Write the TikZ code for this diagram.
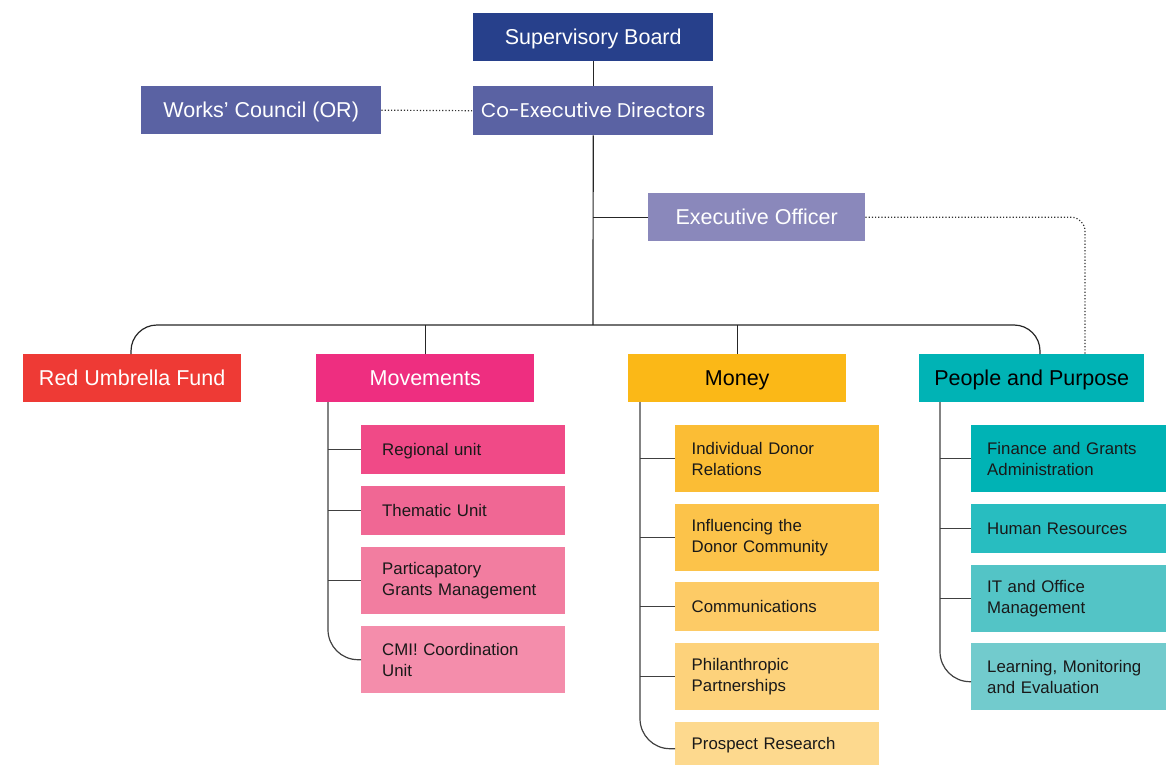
\documentclass[tikz,border=0pt]{standalone}
\usepackage{fontspec}
\setmainfont{Liberation Sans}
\newfontfamily\geofont{Poppins}
\begin{document}
\begin{tikzpicture}[x=1pt,y=-1pt,
  base/.style={rectangle, draw=none, inner sep=0pt, anchor=north west},
  capbig/.style={text height=15.8pt, text depth=0.4pt},
  capsmall/.style={text height=12.4pt, text depth=0.4pt},
  topbox/.style={base, capbig, minimum width=240pt, minimum height=48pt, text=white, font=\fontsize{21.5}{25}\selectfont},
  mainbox/.style={base, capbig, minimum width=218pt, minimum height=48pt, font=\fontsize{21.5}{25}\selectfont},
  subbox/.style={base, minimum width=204pt, inner xsep=#1, text width=204pt-2*#1, align=left, text=black!90, font=\fontsize{16.8}{21}\selectfont},
  conn/.style={draw=black!85, line width=1.2pt},
  sconn/.style={draw=black!75, line width=1.2pt},
  dotline/.style={draw=black!80, line width=1.2pt, dash pattern=on 1.2pt off 2pt}
]
\definecolor{csb}{HTML}{27408B}
\definecolor{cced}{HTML}{5A62A3}
\definecolor{ceo}{HTML}{8A88BB}
\definecolor{crum}{HTML}{EE3A35}
\definecolor{cmov}{HTML}{EE2E80}
\definecolor{cmon}{HTML}{FBB817}
\definecolor{cpp}{HTML}{00B3B5}
\definecolor{cm1}{HTML}{F04A87}
\definecolor{cm2}{HTML}{F06794}
\definecolor{cm3}{HTML}{F27DA0}
\definecolor{cm4}{HTML}{F48DAB}
\definecolor{cy1}{HTML}{FBBD35}
\definecolor{cy2}{HTML}{FCC34A}
\definecolor{cy3}{HTML}{FDCB66}
\definecolor{cy4}{HTML}{FDD27B}
\definecolor{cy5}{HTML}{FDD98E}
\definecolor{cp1}{HTML}{00B3B5}
\definecolor{cp2}{HTML}{28BDC0}
\definecolor{cp3}{HTML}{53C4C6}
\definecolor{cp4}{HTML}{72CBCD}

\useasboundingbox (0,0) rectangle (1166,765);

% top level
\node[topbox, fill=csb] (sb) at (473,13) {Supervisory Board};
\node[topbox, fill=cced, minimum height=49pt, text height=14.2pt, text depth=0.4pt, font=\geofont\fontsize{19.8}{23}\selectfont] (ced) at (473,86) {Co-Executive Directors};
\node[topbox, fill=cced] (wc) at (141,86) {Works’ Council (OR)};
\node[base, capbig, fill=ceo, minimum width=217pt, minimum height=48pt, text=white, font=\fontsize{21.5}{25}\selectfont] (eo) at (648,193) {Executive Officer};

% main departments
\node[mainbox, fill=crum, text=white] (rum) at (23,354) {Red Umbrella Fund};
\node[mainbox, fill=cmov, text=white] (mov) at (316,354) {Movements};
\node[mainbox, fill=cmon, text=black] (mon) at (628,354) {Money};
\node[mainbox, fill=cpp, text=black, minimum width=225pt] (pp) at (919,354) {People and Purpose};

% Movements units
\node[subbox=21pt, capsmall, fill=cm1, minimum height=49pt] (m1) at (361,425) {Regional unit};
\node[subbox=21pt, capsmall, fill=cm2, minimum height=49pt] (m2) at (361,486) {Thematic Unit};
\node[subbox=21pt, fill=cm3, minimum height=67pt] (m3) at (361,547) {Particapatory\\Grants Management};
\node[subbox=21pt, fill=cm4, minimum height=67pt] (m4) at (361,626) {CMI! Coordination\\Unit};

% Money units
\node[subbox=16.5pt, fill=cy1, minimum height=67pt] (y1) at (675,425) {Individual Donor\\Relations};
\node[subbox=16.5pt, fill=cy2, minimum height=67pt] (y2) at (675,504) {Influencing the\\Donor Community};
\node[subbox=16.5pt, capsmall, fill=cy3, minimum height=49pt] (y3) at (675,582) {Communications};
\node[subbox=16.5pt, fill=cy4, minimum height=67pt] (y4) at (675,643) {Philanthropic\\Partnerships};
\node[subbox=16.5pt, capsmall, fill=cy5, minimum height=43pt] (y5) at (675,722) {Prospect Research};

% People and Purpose units
\node[subbox=16pt, fill=cp1, minimum width=195pt, text width=163pt, minimum height=67pt] (p1) at (971,425) {Finance and Grants\\Administration};
\node[subbox=16pt, capsmall, fill=cp2, minimum width=195pt, text width=163pt, minimum height=49pt] (p2) at (971,504) {Human Resources};
\node[subbox=16pt, fill=cp3, minimum width=195pt, text width=163pt, minimum height=67pt] (p3) at (971,565) {IT and Office\\Management};
\node[subbox=16pt, fill=cp4, minimum width=195pt, text width=163pt, minimum height=67pt] (p4) at (971,643) {Learning, Monitoring\\and Evaluation};

% coordinates
\coordinate (bus) at (593,325);
\coordinate (rumin) at (131,354);
\coordinate (ppin) at (1040,354);
\coordinate (eoin) at (1085,354);
\coordinate (mvs) at (328,402);
\coordinate (mns) at (640,402);
\coordinate (pps) at (940,402);

% top connectors
\draw[conn] (sb.south) -- (ced.north);
\draw[dotline] (wc.east) -- (ced.west);
\draw[conn] (ced.south) -- (bus);
\draw[conn] (bus |- eo.west) -- (eo.west);
\draw[conn, rounded corners=26pt] (rumin) |- (bus) -| (ppin);
\draw[conn] (mov.north) -- (mov.north |- bus);
\draw[conn] (mon.north) -- (mon.north |- bus);
\draw[dotline, rounded corners=14pt] (eo.east) -| (eoin);

% Movements tree
\draw[sconn, rounded corners=30pt] (mvs) |- (m4.west);
\foreach \n in {m1,m2,m3} \draw[sconn] (mvs |- \n.west) -- (\n.west);
% Money tree
\draw[sconn, rounded corners=30pt] (mns) |- ([yshift=-5pt]y5.west);
\foreach \n in {y1,y2,y3,y4} \draw[sconn] (mns |- \n.west) -- (\n.west);
% People and Purpose tree
\draw[sconn, rounded corners=30pt] (pps) |- ([yshift=-5pt]p4.west);
\foreach \n in {p1,p2,p3} \draw[sconn] (pps |- \n.west) -- (\n.west);
\end{tikzpicture}
\end{document}
